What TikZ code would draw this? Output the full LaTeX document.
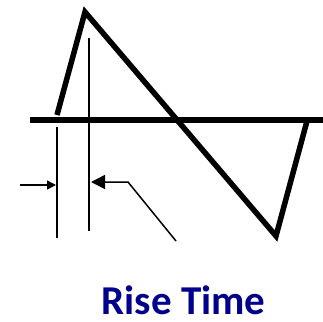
\documentclass[tikz,border=0pt]{standalone}
\usepackage{fontspec}
\setmainfont{Carlito}
\usetikzlibrary{arrows.meta}
\definecolor{titleblue}{RGB}{0,0,140}
\begin{document}
\begin{tikzpicture}[x=1pt, y=-1pt, every node/.style={font=\bfseries}]
  \useasboundingbox (0,0) rectangle (323,321);
  % axis and waveform
  \draw[line width=5.5pt] (30,120) -- (323,120);
  \draw[line width=5.5pt, line join=miter] (57,115) -- (85,12) -- (276,236) -- (307,121);
  % marker lines
  \coordinate (lo top) at (57,127); \coordinate (lo bot) at (57,238);
  \coordinate (hi top) at (89,38); \coordinate (hi bot) at (89,231);
  \draw[line width=2pt] (lo top) -- (lo bot);
  \draw[line width=2pt] (hi top) -- (hi bot);
  % arrows
  \coordinate (lo tail) at (20,185); \coordinate (lo tip) at (56,185);
  \coordinate (bend) at (128,182); \coordinate (hi tip) at (91,182);
  \coordinate (foot) at (176,241);
  \draw[line width=1.5pt, -{Triangle[length=9pt,width=9pt]}] (lo tail) -- (lo tip);
  \draw[line width=1.5pt, -{Triangle[length=14pt,width=14pt]}] (foot) -- (bend) -- (hi tip);
  \node[anchor=base, inner sep=0pt, text=titleblue, font=\fontsize{41}{41}\selectfont\bfseries] (title) at (183.5,314.5) {Rise Time};
\end{tikzpicture}
\end{document}
